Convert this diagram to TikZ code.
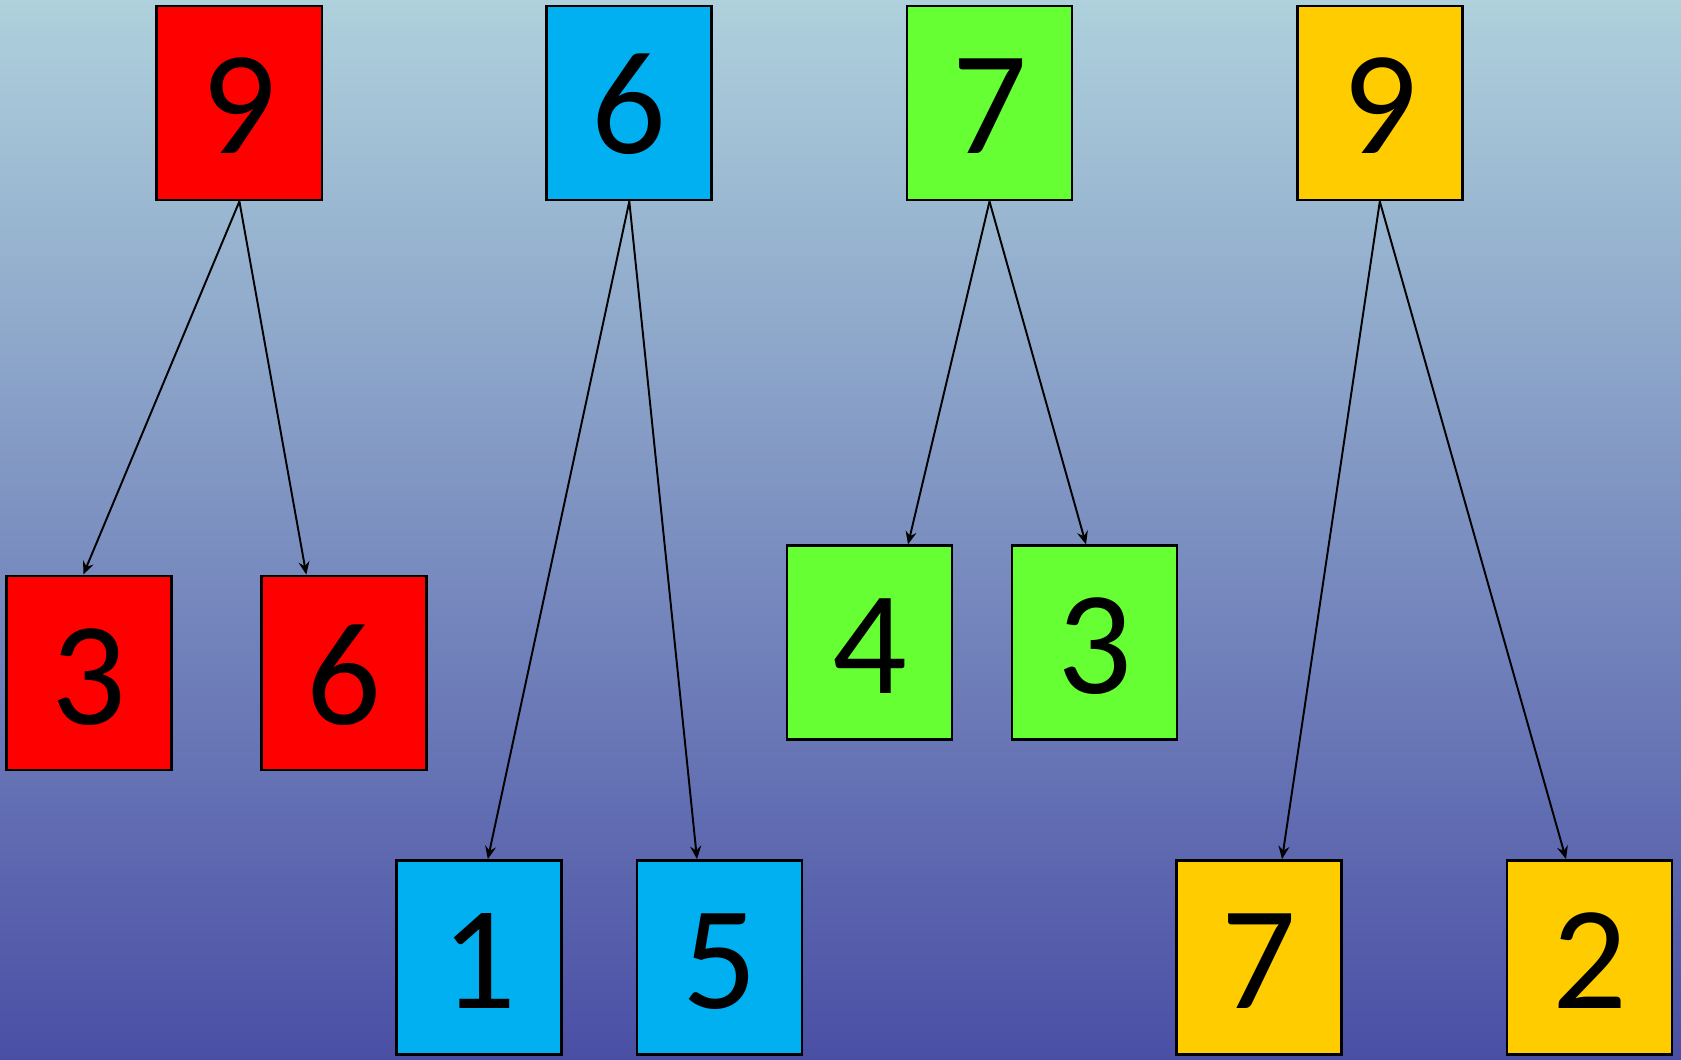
\documentclass[tikz,border=0pt]{standalone}
\usepackage{fontspec}
\setmainfont{Carlito}
\usepackage{xcolor}
\definecolor{bgtop}{RGB}{174,209,220}
\definecolor{bgbottom}{RGB}{74,79,165}
\definecolor{hred}{RGB}{255,0,0}
\definecolor{hblue}{RGB}{0,176,240}
\definecolor{hgreen}{RGB}{102,255,51}
\definecolor{horange}{RGB}{255,204,0}
\usetikzlibrary{arrows.meta,positioning}
\tikzset{
  numbox/.style={draw=black, line width=0.8pt, fill=#1, inner sep=0pt,
                 minimum width=1.65cm, minimum height=1.94cm,
                 text height=1.02cm, text depth=0pt,
                 font=\fontsize{42}{42}\selectfont},
  link/.style={line width=0.55pt, -{Stealth[length=1.3mm, width=1.1mm, inset=0.45mm]}},
}

\begin{document}
\begin{tikzpicture}
  % Background
  \shade[top color=bgtop, bottom color=bgbottom] (0,0) rectangle (16.81,10.59);

  % Top row
  \node[numbox=hred]    (r9) at (2.394,9.56)  {9};
  \node[numbox=hblue]   (b6) at (6.293,9.56)  {6};
  \node[numbox=hgreen]  (g7) at (9.895,9.56)  {7};
  \node[numbox=horange] (o9) at (13.798,9.56) {9};

  % Children
  \node[numbox=hred]    (r3) at (0.893,3.86)  {3};
  \node[numbox=hred]    (r6) at (3.443,3.86)  {6};
  \node[numbox=hblue]   (b1) at (4.793,1.015) {1};
  \node[numbox=hblue]   (b5) at (7.195,1.015) {5};
  \node[numbox=hgreen]  (g4) at (8.695,4.162) {4};
  \node[numbox=hgreen]  (g3) at (10.945,4.162) {3};
  \node[numbox=horange] (o7) at (12.593,1.015) {7};
  \node[numbox=horange] (o2) at (15.895,1.015) {2};

  % Arrows
  \draw[link] (r9.south) -- ([xshift=-0.06cm]r3.north);
  \draw[link] (r9.south) -- ([xshift=-0.38cm]r6.north);
  \draw[link] (b6.south) -- ([xshift=0.085cm]b1.north);
  \draw[link] (b6.south) -- ([xshift=-0.225cm]b5.north);
  \draw[link] (g7.south) -- ([xshift=0.385cm]g4.north);
  \draw[link] (g7.south) -- ([xshift=-0.085cm]g3.north);
  \draw[link] (o9.south) -- ([xshift=0.227cm]o7.north);
  \draw[link] (o9.south) -- ([xshift=-0.235cm]o2.north);
\end{tikzpicture}
\end{document}
